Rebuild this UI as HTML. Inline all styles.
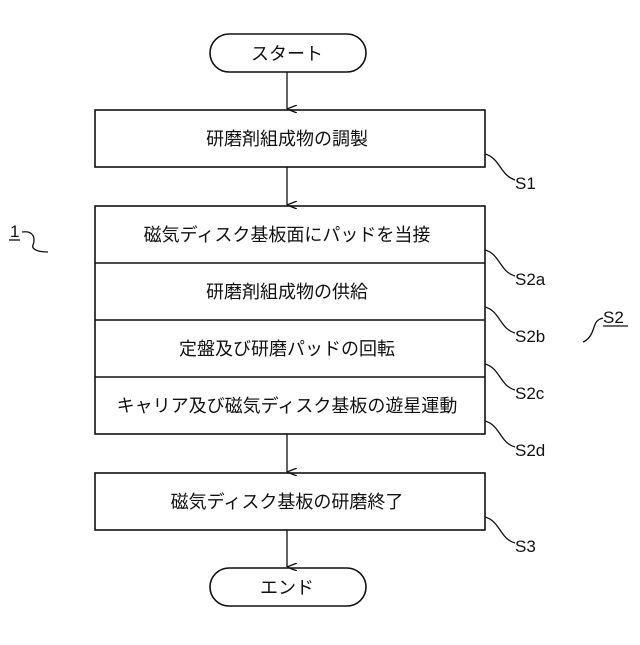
<!DOCTYPE html>
<html><head><meta charset="utf-8"><style>
body{margin:0;background:#fff}
svg text{font-family:"Liberation Sans","Noto Sans CJK JP",sans-serif;fill:#111}
</style></head><body>
<svg width="640" height="640" viewBox="0 0 640 640" xmlns="http://www.w3.org/2000/svg">
<defs><marker id="a" markerWidth="8" markerHeight="10" refX="4" refY="10" orient="auto" markerUnits="userSpaceOnUse"><path d="M0,0 L4,10 L8,0" fill="none" stroke="#111" stroke-width="1.3"/></marker></defs>
<g fill="none" stroke="#111" stroke-width="1.6">
<rect x="210" y="34" width="156" height="38" rx="19"/>
<rect x="95" y="110" width="390" height="57"/>
<rect x="95" y="206" width="390" height="228"/>
<line x1="95" y1="263" x2="485" y2="263"/>
<line x1="95" y1="320" x2="485" y2="320"/>
<line x1="95" y1="377" x2="485" y2="377"/>
<rect x="95" y="473" width="390" height="57"/>
<rect x="210" y="568" width="156" height="38" rx="19"/>
</g>
<g stroke="#111" stroke-width="1.3" fill="none">
<line x1="287" y1="72" x2="287" y2="109" marker-end="url(#a)"/>
<line x1="287" y1="167" x2="287" y2="205" marker-end="url(#a)"/>
<line x1="287" y1="434" x2="287" y2="472" marker-end="url(#a)"/>
<line x1="287" y1="530" x2="287" y2="567" marker-end="url(#a)"/>
<path d="M485,154 C500,158 500,175 515,180"/>
<path d="M485,250 C500,254 500,272 515,276"/>
<path d="M485,307 C500,311 500,329 515,333"/>
<path d="M485,364 C500,368 500,386 515,390"/>
<path d="M485,421 C500,425 500,443 515,447"/>
<path d="M485,517 C500,521 500,539 515,543"/>
<path d="M22,232 C35,230 35,240 33,245 C31,250 40,252 48,252"/>
<path d="M603,318 C595,320 595,325 593,330 C591,336 588,340 583,342"/>
</g>
<g font-size="18" text-anchor="middle">
<text x="287" y="60">スタート</text>
<text x="287" y="145">研磨剤組成物の調製</text>
<text x="287" y="241">磁気ディスク基板面にパッドを当接</text>
<text x="287" y="298">研磨剤組成物の供給</text>
<text x="287" y="355">定盤及び研磨パッドの回転</text>
<text x="287" y="412">キャリア及び磁気ディスク基板の遊星運動</text>
<text x="287" y="508">磁気ディスク基板の研磨終了</text>
<text x="287" y="594">エンド</text>
</g>
<g font-size="17">
<text x="515" y="189">S1</text>
<text x="515" y="285">S2a</text>
<text x="515" y="342">S2b</text>
<text x="515" y="399">S2c</text>
<text x="515" y="456">S2d</text>
<text x="515" y="552">S3</text>
<text x="603" y="323">S2</text>
<text x="10" y="237">1</text>
</g>
<line x1="603" y1="326" x2="628" y2="326" stroke="#111" stroke-width="1.3"/>
<line x1="9" y1="240" x2="20" y2="240" stroke="#111" stroke-width="1.3"/>
</svg>
</body></html>
